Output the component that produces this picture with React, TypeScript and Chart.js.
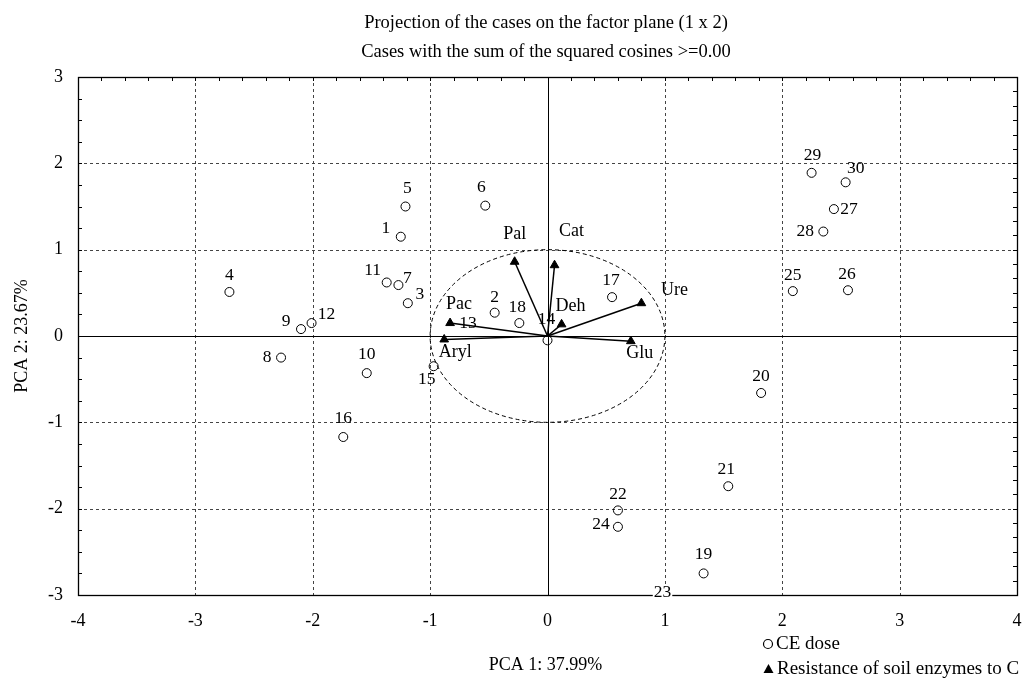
import React, { useEffect, useRef } from "react";
import { Chart, registerables } from "chart.js";

Chart.register(...registerables);

const FONT = "'Liberation Serif', 'Times New Roman', serif";

const titleLines = [
  "Projection of the cases on the factor plane (1 x 2)",
  "Cases with the sum of the squared cosines >=0.00",
];
const xAxisTitle = "PCA 1: 37.99%";
const yAxisTitle = "PCA 2: 23.67%";
const legendLabels = ["CE dose", "Resistance of soil enzymes to C"];

const xTickValues = [-4, -3, -2, -1, 0, 1, 2, 3, 4];
const yTickValues = [-3, -2, -1, 0, 1, 2, 3];

const caseLabels = [
  "1", "2", "3", "4", "5", "6", "7", "8", "9", "10",
  "11", "12", "13", "14", "15", "16", "17", "18", "19", "20",
  "21", "22", "23", "24", "25", "26", "27", "28", "29", "30",
];
const caseX = [
  -1.25, -0.45, -1.19, -2.71, -1.21, -0.53, -1.27, -2.27, -2.1, -1.54,
  -1.37, -2.01, -0.83, 0.0, -0.97, -1.74, 0.55, -0.24, 1.33, 1.82,
  1.54, 0.6, 0.98, 0.6, 2.09, 2.56, 2.44, 2.35, 2.25, 2.54,
];
const caseY = [
  1.15, 0.27, 0.38, 0.51, 1.5, 1.51, 0.59, -0.25, 0.08, -0.43,
  0.62, 0.15, 0.15, -0.05, -0.35, -1.17, 0.45, 0.15, -2.75, -0.66,
  -1.74, -2.02, -3.17, -2.21, 0.52, 0.53, 1.47, 1.21, 1.89, 1.78,
];

const enzymeLabels = ["Pal", "Cat", "Deh", "Ure", "Glu", "Aryl", "Pac"];
const enzymeX = [-0.28, 0.06, 0.12, 0.8, 0.71, -0.88, -0.83];
const enzymeY = [0.86, 0.82, 0.135, 0.38, -0.06, -0.04, 0.15];

// label placement offsets (pixels) relative to each mark
const caseLabelDX = [
  -15, 0, 12, 0, 2, -4, 9, -14, -15, 0,
  -14, 15, 18, -1, -7, 0, -1, -2, 0, 0,
  -2, 0, 0, -17, 0, -1, 15, -18, 1, 10,
];
const caseLabelDY = [
  -8, -15, -9, -17, -18, -18, -7, 0, -8, -19,
  -12, -9, 0, -21, 13, -19, -17, -16, -19, -17,
  -17, -16, -17, -2, -16, -16, 0, 0, -17, -14,
];
// case 13 lies under the Pac marker
const caseMarkerRadius = caseLabels.map((l) => (l === "13" ? 0 : 4.5));
const enzymeLabelDX = [0, 17, 9, 33, 9, 11, 9];
const enzymeLabelDY = [-27, -34, -18, -13, 12, 13, -19];

const decorPlugin = {
  id: "decor",
  beforeDatasetsDraw(chart: any) {
    const { ctx, chartArea: a } = chart;
    const x = chart.scales.x;
    const y = chart.scales.y;
    ctx.save();
    // dashed grid
    ctx.strokeStyle = "#444";
    ctx.lineWidth = 1;
    ctx.setLineDash([3, 3]);
    for (const v of xTickValues) {
      if (v === 0 || v === xTickValues[0] || v === xTickValues[xTickValues.length - 1]) continue;
      const px = Math.round(x.getPixelForValue(v)) + 0.5;
      ctx.beginPath();
      ctx.moveTo(px, a.top);
      ctx.lineTo(px, a.bottom);
      ctx.stroke();
    }
    for (const v of yTickValues) {
      if (v === 0 || v === yTickValues[0] || v === yTickValues[yTickValues.length - 1]) continue;
      const py = Math.round(y.getPixelForValue(v)) + 0.5;
      ctx.beginPath();
      ctx.moveTo(a.left, py);
      ctx.lineTo(a.right, py);
      ctx.stroke();
    }
    // unit circle (dashed ellipse)
    const cx = x.getPixelForValue(0);
    const cy = y.getPixelForValue(0);
    const rx = x.getPixelForValue(1) - cx;
    const ry = cy - y.getPixelForValue(1);
    ctx.strokeStyle = "#000";
    ctx.setLineDash([4, 3]);
    ctx.beginPath();
    ctx.ellipse(cx, cy, rx, ry, 0, 0, Math.PI * 2);
    ctx.stroke();
    // zero axes
    ctx.setLineDash([]);
    ctx.lineWidth = 1;
    ctx.beginPath();
    ctx.moveTo(Math.round(cx) + 0.5, a.top);
    ctx.lineTo(Math.round(cx) + 0.5, a.bottom);
    ctx.moveTo(a.left, Math.round(cy) + 0.5);
    ctx.lineTo(a.right, Math.round(cy) + 0.5);
    ctx.stroke();
    // frame
    ctx.lineWidth = 1.3;
    ctx.strokeRect(Math.round(a.left) + 0.5, Math.round(a.top) + 0.5, Math.round(a.right - a.left), Math.round(a.bottom - a.top));
    // minor ticks (inside): top, left, right
    ctx.lineWidth = 1;
    for (let i = 1; i < 40; i++) {
      const v = x.min + i * 0.2;
      const px = Math.round(x.getPixelForValue(v)) + 0.5;
      ctx.beginPath();
      ctx.moveTo(px, a.top);
      ctx.lineTo(px, a.top + 4);
      ctx.stroke();
    }
    for (let i = 1; i < 24; i++) {
      const v = y.min + i * 0.25;
      const py = Math.round(y.getPixelForValue(v)) + 0.5;
      ctx.beginPath();
      ctx.moveTo(a.left, py);
      ctx.lineTo(a.left + 4, py);
      ctx.stroke();
    }
    for (let i = 1; i < 36; i++) {
      const v = y.min + i / 6;
      const py = Math.round(y.getPixelForValue(v)) + 0.5;
      ctx.beginPath();
      ctx.moveTo(a.right, py);
      ctx.lineTo(a.right - 4, py);
      ctx.stroke();
    }
    ctx.restore();
  },
  afterDatasetsDraw(chart: any) {
    const { ctx, chartArea: a } = chart;
    const x = chart.scales.x;
    const y = chart.scales.y;
    ctx.save();
    ctx.fillStyle = "#000";
    ctx.textAlign = "center";
    ctx.textBaseline = "middle";
    ctx.font = `17.5px ${FONT}`;
    caseLabels.forEach((lab, i) => {
      const px = x.getPixelForValue(caseX[i]) + caseLabelDX[i];
      const py = y.getPixelForValue(caseY[i]) + caseLabelDY[i];
      if (py > a.bottom - 8) {
        const w = ctx.measureText(lab).width;
        ctx.fillStyle = "#fff";
        ctx.fillRect(px - w / 2 - 1, py - 7, w + 2, 14);
        ctx.fillStyle = "#000";
      }
      ctx.fillText(lab, px, py);
    });
    ctx.font = `18px ${FONT}`;
    enzymeLabels.forEach((lab, i) => {
      const px = x.getPixelForValue(enzymeX[i]) + enzymeLabelDX[i];
      const py = y.getPixelForValue(enzymeY[i]) + enzymeLabelDY[i];
      ctx.fillText(lab, px, py);
    });
    ctx.restore();
  },
  afterDraw(chart: any) {
    const { ctx, chartArea: a } = chart;
    ctx.save();
    ctx.fillStyle = "#000";
    ctx.textAlign = "center";
    ctx.textBaseline = "middle";
    ctx.font = `18.5px ${FONT}`;
    ctx.fillText(titleLines[0], 546, 23);
    ctx.fillText(titleLines[1], 546, 52);
    ctx.font = `18px ${FONT}`;
    ctx.fillText(xAxisTitle, (a.left + a.right) / 2 - 2, 665);
    ctx.save();
    ctx.translate(22, (a.top + a.bottom) / 2);
    ctx.rotate(-Math.PI / 2);
    ctx.fillText(yAxisTitle, 0, 0);
    ctx.restore();
    // legend
    ctx.font = `19px ${FONT}`;
    ctx.textAlign = "left";
    ctx.lineWidth = 1.2;
    ctx.strokeStyle = "#000";
    ctx.beginPath();
    ctx.arc(768, 644, 4.5, 0, Math.PI * 2);
    ctx.stroke();
    ctx.fillText(legendLabels[0], 776, 644);
    ctx.beginPath();
    ctx.moveTo(768.5, 664);
    ctx.lineTo(773.5, 673);
    ctx.lineTo(763.5, 673);
    ctx.closePath();
    ctx.fill();
    ctx.fillText(legendLabels[1], 777, 669);
    ctx.restore();
  },
};

export default function App() {
  const ref = useRef<HTMLCanvasElement>(null);
  useEffect(() => {
    document.body.style.margin = "0";
    const tickFont = { family: FONT, size: 18 };
    const enzymeSets = enzymeLabels.map((lab, i) => ({
      type: "scatter" as const,
      label: lab,
      data: [
        { x: 0, y: 0 },
        { x: enzymeX[i], y: enzymeY[i] },
      ],
      showLine: true,
      borderColor: "#000",
      borderWidth: 1.5,
      pointRadius: [0, 5],
      pointStyle: "triangle",
      pointBackgroundColor: "#000",
      pointBorderColor: "#000",
      pointBorderWidth: 1,
    }));
    const chart = new Chart(ref.current as HTMLCanvasElement, {
      type: "scatter",
      data: {
        datasets: [
          {
            label: legendLabels[0],
            data: caseX.map((v, i) => ({ x: v, y: caseY[i] })),
            pointStyle: "circle",
            pointRadius: caseMarkerRadius,
            borderColor: "#000",
            borderWidth: 1,
            backgroundColor: "rgba(0,0,0,0)",
          },
          ...enzymeSets,
        ] as any,
      },
      options: {
        animation: false,
        responsive: false,
        events: [],
        layout: { padding: { top: 77, right: 6, left: 0, bottom: 0 } },
        plugins: {
          legend: { display: false },
          title: { display: false },
          tooltip: { enabled: false },
        },
        scales: {
          x: {
            type: "linear",
            min: -4,
            max: 4,
            afterBuildTicks: (s: any) => {
              s.ticks = xTickValues.map((v) => ({ value: v }));
            },
            afterFit: (s: any) => {
              s.height = 89;
              s.paddingLeft = 0;
              s.paddingRight = 0;
            },
            ticks: { font: tickFont, color: "#000", padding: 15, maxRotation: 0, autoSkip: false },
            grid: { display: false, drawTicks: false },
            border: { display: false },
          },
          y: {
            type: "linear",
            min: -3,
            max: 3,
            afterBuildTicks: (s: any) => {
              s.ticks = yTickValues.map((v) => ({ value: v }));
            },
            afterFit: (s: any) => {
              s.width = 78;
              s.paddingTop = 0;
              s.paddingBottom = 0;
            },
            ticks: { font: tickFont, color: "#000", padding: 15, autoSkip: false },
            grid: { display: false, drawTicks: false },
            border: { display: false },
          },
        },
      } as any,
      plugins: [decorPlugin],
    });
    return () => chart.destroy();
  }, []);
  return (
    <div style={{ width: 1023, height: 684, background: "#fff" }}>
      <canvas ref={ref} width={1023} height={684} style={{ display: "block" }} />
    </div>
  );
}
